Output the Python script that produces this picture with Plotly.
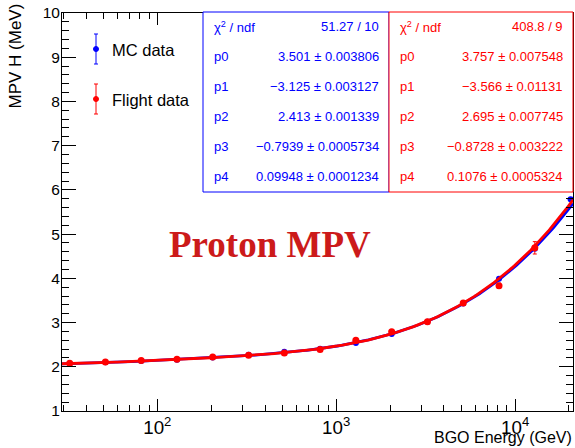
import plotly.graph_objects as go
import numpy as np

# ---------------- data ----------------
energy_mc = [32.4, 51.3, 81.3, 128.8, 204, 324, 513, 813, 1288, 2042, 3236, 5129, 8128, 12882, 20417]
mpv_mc = [2.07, 2.10, 2.13, 2.16, 2.21, 2.27, 2.34, 2.41, 2.54, 2.74, 3.02, 3.43, 3.99, 4.67, 5.79]
err_mc = [0.01, 0.01, 0.01, 0.01, 0.01, 0.01, 0.01, 0.01, 0.015, 0.015, 0.02, 0.02, 0.025, 0.03, 0.035]

energy_fl = [32.4, 51.3, 81.3, 128.8, 204, 324, 513, 813, 1288, 2042, 3236, 5129, 8128, 12882]
mpv_fl = [2.08, 2.11, 2.14, 2.17, 2.22, 2.26, 2.31, 2.39, 2.60, 2.79, 3.02, 3.44, 3.83, 4.69]
err_fl = [0.015, 0.015, 0.015, 0.015, 0.015, 0.015, 0.02, 0.02, 0.03, 0.03, 0.03, 0.03, 0.06, 0.14]

# pol4 fit in log10(E): p0..p4
fit_mc = [3.501, -3.125, 2.413, -0.7939, 0.09948]
fit_fl = [3.757, -3.566, 2.695, -0.8728, 0.1076]

stat_labels = ["χ<sup>2</sup> / ndf", "p0", "p1", "p2", "p3", "p4"]
stat_mc = ["51.27 / 10", "3.501 ± 0.003806", "−3.125 ± 0.003127", "2.413 ± 0.001339",
           "−0.7939 ± 0.0005734", "0.09948 ± 0.0001234"]
stat_fl = ["408.8 / 9", "3.757 ± 0.007548", "−3.566 ± 0.01131", "2.695 ± 0.007745",
           "−0.8728 ± 0.003222", "0.1076 ± 0.0005324"]

legend_names = ["MC data", "Flight data"]

# ---------------- style ----------------
BLUE = "#0000ff"
RED = "#ff0000"
FONT = "Liberation Sans, Arial, sans-serif"
W, H = 575, 448
L, R, T, B = 62, 573, 13, 411
XRANGE = [1.4675, 4.3235]


def px(x):
    return (x - L) / (R - L)


def py(y):
    return (B - y) / (B - T)


lx = np.linspace(XRANGE[0], XRANGE[1], 400)
curve_x = 10 ** lx


def pol(p):
    return sum(c * lx ** i for i, c in enumerate(p))


fig = go.Figure()
fig.add_trace(go.Scatter(x=curve_x, y=pol(fit_mc), mode="lines",
                         line=dict(color=BLUE, width=2.8), showlegend=False, hoverinfo="skip"))
fig.add_trace(go.Scatter(x=energy_mc, y=mpv_mc, mode="markers",
                         marker=dict(color=BLUE, size=6),
                         error_y=dict(type="data", array=err_mc, color=BLUE, thickness=1, width=2),
                         name=legend_names[0], showlegend=False))
fig.add_trace(go.Scatter(x=curve_x, y=pol(fit_fl), mode="lines",
                         line=dict(color=RED, width=2.8), showlegend=False, hoverinfo="skip"))
fig.add_trace(go.Scatter(x=energy_fl, y=mpv_fl, mode="markers",
                         marker=dict(color=RED, size=7),
                         error_y=dict(type="data", array=err_fl, color=RED, thickness=1, width=2),
                         name=legend_names[1], showlegend=False))

shapes = []
annotations = []

# stat boxes
boxes = [(203, 389, BLUE, stat_mc), (389, 573, RED, stat_fl)]
for x0, x1, col, vals in boxes:
    shapes.append(dict(type="rect", xref="paper", yref="paper",
                       x0=px(x0), x1=px(x1), y0=py(192), y1=py(12),
                       line=dict(color=col, width=1), fillcolor="white", layer="above"))
    for i, (lab, val) in enumerate(zip(stat_labels, vals)):
        yc = 26.7 + 30 * i
        annotations.append(dict(xref="paper", yref="paper", x=px(x0 + 8.5), y=py(yc),
                                text=lab, showarrow=False, xanchor="left", yanchor="middle",
                                font=dict(family=FONT, size=13, color=col)))
        annotations.append(dict(xref="paper", yref="paper", x=px(x1 - 8.5), y=py(yc),
                                text=val, showarrow=False, xanchor="right", yanchor="middle",
                                font=dict(family=FONT, size=13, color=col)))

# legend
for name, col, yc in [(legend_names[0], BLUE, 49), (legend_names[1], RED, 99)]:
    shapes.append(dict(type="line", xref="paper", yref="paper", x0=px(96), x1=px(96),
                       y0=py(yc - 15), y1=py(yc + 15), line=dict(color=col, width=1)))
    for yy in (yc - 15, yc + 15):
        shapes.append(dict(type="line", xref="paper", yref="paper", x0=px(94), x1=px(98),
                           y0=py(yy), y1=py(yy), line=dict(color=col, width=1)))
    shapes.append(dict(type="circle", xref="paper", yref="paper", x0=px(93.5), x1=px(98.5),
                       y0=py(yc + 2.5), y1=py(yc - 2.5), line=dict(color=col, width=1),
                       fillcolor=col))
    annotations.append(dict(xref="paper", yref="paper", x=px(110), y=py(yc + 1),
                            text=name, showarrow=False, xanchor="left", yanchor="middle",
                            font=dict(family=FONT, size=16.5, color="black")))

# axis titles
annotations.append(dict(xref="paper", yref="paper", x=px(574), y=py(438), text="BGO Energy (GeV)",
                        showarrow=False, xanchor="right", yanchor="middle",
                        font=dict(family=FONT, size=16, color="black")))
annotations.append(dict(xref="paper", yref="paper", x=px(15), y=py(2), text="MPV H (MeV)",
                        showarrow=False, xanchor="center", yanchor="top", textangle=-90,
                        font=dict(family=FONT, size=17, color="black")))

# big label
annotations.append(dict(xref="paper", yref="paper", x=px(270), y=py(244), text="<b>Proton MPV</b>",
                        showarrow=False, xanchor="center", yanchor="middle",
                        font=dict(family="Liberation Serif, Times New Roman, serif", size=37,
                                  color="#cc1a1a")))

fig.update_layout(
    width=W, height=H,
    margin=dict(l=L, r=W - R, t=T, b=H - B),
    paper_bgcolor="white", plot_bgcolor="white",
    showlegend=False,
    shapes=shapes, annotations=annotations,
    xaxis=dict(type="log", range=XRANGE, dtick=1, exponentformat="power",
               showgrid=False, zeroline=False, showline=True, linecolor="black", linewidth=1,
               mirror="allticks", ticks="inside", ticklen=12, tickcolor="black",
               minor=dict(ticks="inside", ticklen=6, dtick="D1", tickcolor="black", showgrid=False),
               tickfont=dict(family=FONT, size=15, color="black")),
    yaxis=dict(range=[1, 10], dtick=1, showgrid=False, zeroline=False, showline=True,
               linecolor="black", linewidth=1, mirror="allticks", ticks="inside", ticklen=14,
               tickcolor="black", ticklabelstandoff=-2,
               minor=dict(ticks="inside", ticklen=7, dtick=0.2, tickcolor="black", showgrid=False),
               tickfont=dict(family=FONT, size=15.5, color="black")),
)

fig.write_html("out.html")
